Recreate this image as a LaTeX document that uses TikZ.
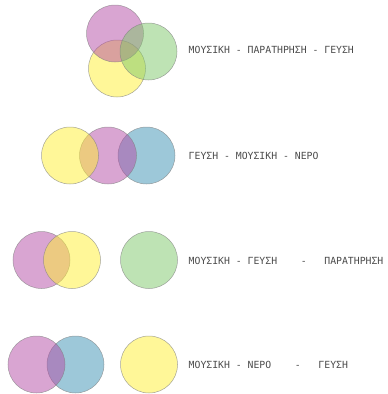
\documentclass[tikz,border=0pt]{standalone}
\usepackage{fontspec}
\setmonofont{DejaVu Sans Mono}
\usepackage{tikz}
\definecolor{mousikiC}{RGB}{180,75,165}
\definecolor{geusiC}{RGB}{255,240,50}
\definecolor{paratC}{RGB}{125,200,105}
\definecolor{neroC}{RGB}{60,145,180}
\definecolor{labelC}{RGB}{75,75,75}

\begin{document}
\begin{tikzpicture}[x=1pt, y=-1pt,
	set/.style={draw=gray, draw opacity=0.7, line width=0.5pt, fill opacity=0.5},
	mousiki/.style={set, fill=mousikiC},
	geusi/.style={set, fill=geusiC},
	parat/.style={set, fill=paratC},
	nero/.style={set, fill=neroC},
	lbl/.style={anchor=west, inner sep=0pt, text=labelC, font=\ttfamily\fontsize{9.8}{11}\selectfont}]
			\useasboundingbox (0,0) rectangle (388,394);
			% first row
			\draw[geusi] (117,68.5) circle [radius=28.5pt];
			\draw[mousiki] (115,33.5) circle [radius=28.5pt];
			\draw[parat] (148.5,51.5) circle [radius=28.5pt];
			\node[lbl] (r1) at (188.5,50.3) {ΜΟΥΣΙΚΗ - ΠΑΡΑΤΗΡΗΣΗ - ΓΕΥΣΗ};
			% second row
			\draw[nero] (146.5,155.5) circle [radius=28.5pt];
			\draw[mousiki] (108,155.5) circle [radius=28.5pt];
			\draw[geusi] (70,155.5) circle [radius=28.5pt];
			\node[lbl] (r2) at (188.5,156.3) {ΓΕΥΣΗ - ΜΟΥΣΙΚΗ - ΝΕΡΟ};
			% third row
			\draw[mousiki] (41.5,260) circle [radius=28.5pt];
			\draw[geusi] (72,260) circle [radius=28.5pt];
			\draw[parat] (149,260) circle [radius=28.5pt];
			\node[lbl] (r3) at (188.5,260.7) {ΜΟΥΣΙΚΗ - ΓΕΥΣΗ~~~~-~~~ΠΑΡΑΤΗΡΗΣΗ};
			% fourth row
			\draw[nero] (75.5,364.5) circle [radius=28.5pt];
			\draw[mousiki] (36.5,364.5) circle [radius=28.5pt];
			\draw[geusi] (149,364.5) circle [radius=28.5pt];
			\node[lbl] (r4) at (188.5,365) {ΜΟΥΣΙΚΗ - ΝΕΡΟ~~~~-~~~ΓΕΥΣΗ};
		\end{tikzpicture}
\end{document}
